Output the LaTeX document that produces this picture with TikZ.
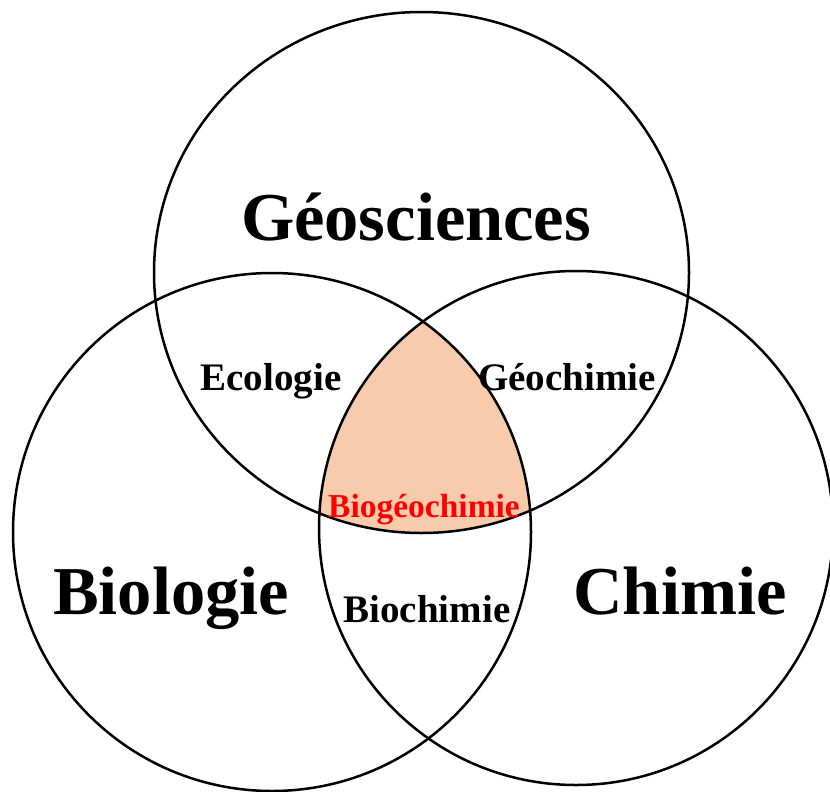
\documentclass[tikz,border=0pt]{standalone}
\usepackage{fontspec}
\setmainfont{Liberation Serif}
\definecolor{peach}{HTML}{F8CBAD}
\definecolor{labelred}{HTML}{FF0000}
\tikzset{
  ring/.style={draw=black, line width=2.5pt},
  bigtext/.style={inner sep=0pt, anchor=base, font=\fontsize{68.5}{80}\selectfont\bfseries},
  midtext/.style={inner sep=0pt, anchor=base, font=\fontsize{39}{46}\selectfont\bfseries},
  smalltext/.style={inner sep=0pt, anchor=base, text=labelred, font=\fontsize{33.5}{40}\selectfont\bfseries}
}
\begin{document}
\begin{tikzpicture}[x=1pt, y=-1pt]
\useasboundingbox (0,0) rectangle (830,792);
% triple intersection
\begin{scope}
  \clip (421.5,272.5) ellipse [x radius=267.5, y radius=260.5];
  \clip (272,532) circle (259);
  \fill[peach] (576,528) circle (257);
\end{scope}
% circles
\draw[ring] (421.5,272.5) ellipse [x radius=267.5, y radius=260.5];
\draw[ring] (272,532) circle (259);
\draw[ring] (576,528) circle (257);
% labels
\node[bigtext] (geo) at (416,240) {Géosciences};
\node[bigtext] (bio) at (171,614) {Biologie};
\node[bigtext] (chi) at (680,614) {Chimie};
\node[midtext] (eco) at (271,390) {Ecologie};
\node[midtext] (gch) at (567,390) {Géochimie};
\node[midtext] (bch) at (427,622) {Biochimie};
\node[smalltext] (bgc) at (424,517) {Biogéochimie};
\end{tikzpicture}
\end{document}
